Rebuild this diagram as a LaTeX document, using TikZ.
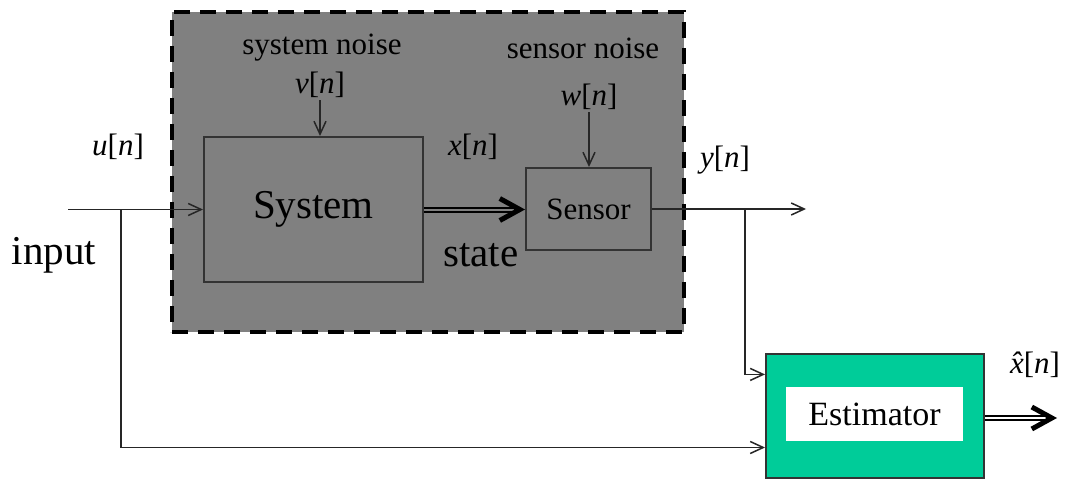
\documentclass[tikz,border=0pt]{standalone}
\usepackage{fontspec}
\setmainfont{Liberation Serif}
\usepackage{tikz}
\usetikzlibrary{arrows.meta,calc}
\definecolor{plantgray}{HTML}{808080}
\definecolor{estgreen}{HTML}{00CC99}
\tikzset{
  bd plant/.style={
    rectangle,
    minimum width=256pt,
    minimum height=160pt,
    line width=2pt,
    dash pattern=on 8pt off 5pt,
    draw=black,
    fill=plantgray,
  },
  bd block/.style={
    rectangle,
    line width=1pt,
    draw=black!80,
    inner sep=0pt,
  },
  bd label/.style={font=\fontsize{15.5pt}{17pt}\selectfont, inner sep=1pt},
  bd big/.style={font=\fontsize{20.5pt}{23pt}\selectfont, inner sep=1pt},
  bd arrow/.style={-{Straight Barb[length=6.5pt,width=6pt]}, line width=0.75pt, draw=black!85},
  bd double/.style={
    -{Straight Barb[length=10pt,width=11pt,line width=2.5pt]},
    line width=1pt,
    double distance=1pt,
    draw=black,
  },
}
\begin{document}
\begin{tikzpicture}[x=0.5pt,y=-0.5pt]
  \useasboundingbox[fill=white] (0,0) rectangle (1066,481);
  % plant
  \node[bd plant] (plant) at (428,172) {};
  \node[bd block, minimum width=109.5pt, minimum height=72.5pt,
        font=\fontsize{20.5pt}{23pt}\selectfont] (sys) at (313.5,209.5) {System};
  \node[bd block, minimum width=62.5pt, minimum height=41pt,
        font=\fontsize{15.5pt}{17pt}\selectfont] (sensor) at (588.5,209) {Sensor};
  % estimator
  \node[bd block, fill=estgreen, minimum width=109pt, minimum height=62pt] (est) at (875,416) {};
  \node[rectangle, fill=white, minimum width=88.5pt, minimum height=27pt, inner sep=0pt,
        font=\fontsize{17pt}{19pt}\selectfont] (estin) at (874.5,414) {Estimator};
  % labels
  \node[bd label] (sysnoise) at (322,48) {system noise};
  \node[bd label] (vlab) at (320,85) {\textit{v}[\textit{n}]};
  \node[bd label] (sennoise) at (583,48) {sensor noise};
  \node[bd label] (wlab) at (589,97) {\textit{w}[\textit{n}]};
  \node[bd label] (xlab) at (473,147) {\textit{x}[\textit{n}]};
  \node[bd big] (statelab) at (481,255) {state};
  \node[bd label] (ulab) at (118,147) {\textit{u}[\textit{n}]};
  \node[bd big] (inputlab) at (54,255) {input};
  \node[bd label] (ylab) at (725,160) {\textit{y}[\textit{n}]};
  \node[bd label] (xhatlab) at (1035,365)
    {\textit{x}\llap{\makebox[0.5em][c]{\textit{\char"02C6}}}[\textit{n}]};
  % connectors
  \coordinate (uin) at (68,209.5);
  \coordinate (ubr) at (121,209.5);
  \coordinate (yout) at (806,209);
  \coordinate (ybr) at (745,209);
  \coordinate (xhatend) at (1057,418);
  \draw[bd arrow] (uin) -- (sys.west);
  \draw[bd arrow] (ubr) |- ($(est.north west)!0.75!(est.south west)$);
  \draw[bd arrow] (vlab.south) -- (vlab.south |- sys.north);
  \draw[bd arrow] (wlab.south) -- (wlab.south |- sensor.north);
  \draw[bd double, double=plantgray] (sys.east) -- (sys.east -| sensor.west);
  \draw[bd arrow] (sensor.east) -- (yout);
  \draw[bd arrow] (ybr) |- ($(est.north west)!0.17!(est.south west)$);
  \draw[bd double] (est.east |- xhatend) -- (xhatend);
\end{tikzpicture}
\end{document}
